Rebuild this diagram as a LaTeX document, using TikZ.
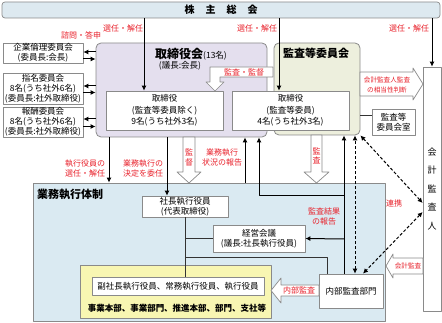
\documentclass[tikz,border=0pt]{standalone}
\usepackage{fontspec}
\setmainfont{Noto Sans CJK JP}
\usetikzlibrary{arrows.meta}
\definecolor{shareblue}{HTML}{DDE9F0}
\definecolor{boardlav}{HTML}{E4DFEE}
\definecolor{acgreen}{HTML}{EDEFDD}
\definecolor{execblue}{HTML}{DAEAF2}
\definecolor{unityellow}{HTML}{F8F6B2}
\definecolor{lblred}{HTML}{E8202A}
\definecolor{edgegray}{HTML}{8A8A8A}
\newcommand{\fbx}{\fontsize{8.5}{10}\selectfont}
\newcommand{\fdir}{\fontsize{8.5}{11.5}\selectfont}
\newcommand{\flbl}{\fontsize{8}{10}\selectfont}
\newcommand{\ftiny}{\fontsize{6.6}{9.5}\selectfont}

\begin{document}
\begin{tikzpicture}[x=1pt,y=-1pt,line join=round,
  box/.style={draw=edgegray,fill=white,align=center,inner sep=0pt,font=\fbx,line width=0.7pt},
  panel/.style={draw=edgegray,line width=0.8pt,rounded corners=5pt,inner sep=0pt},
  lbl/.style={text=lblred,align=center,inner sep=0pt,font=\flbl},
  arr/.style={line width=1pt,-{Latex[length=5pt,width=5pt]}},
  darr/.style={line width=1pt,dash pattern=on 3pt off 2pt,{Latex[length=5pt,width=5pt]}-{Latex[length=5pt,width=5pt]}},
  barrow/.style={draw=edgegray,fill=white,line width=0.7pt},
  tie/.style={line width=0.8pt,black!80}]
\useasboundingbox (0,0) rectangle (442,323);
% ---- shareholders' meeting ----
\node[draw=edgegray,fill=shareblue,rounded corners=3pt,minimum width=438,minimum height=16,
  inner sep=0pt,line width=0.7pt,font=\fontsize{10}{10}\selectfont\bfseries] (agm) at (221,10)
  {株\hspace{11pt}主\hspace{11pt}総\hspace{11pt}会};
% ---- board and audit committee ----
\node[panel,fill=boardlav,minimum width=171,minimum height=94] (board) at (181.5,90) {};
\node[panel,fill=acgreen,minimum width=86,minimum height=92] (acom) at (317,89) {};
\node[inner sep=0pt] (boardtitle) at (191,54)
  {{\fontsize{12}{12}\selectfont\bfseries 取締役会}{\fbx(13名)}};
\node[inner sep=0pt,font=\fbx] (boardchair) at (180,66) {(議長:会長)};
\node[inner sep=0pt,font=\fontsize{11}{11}\selectfont\bfseries] (acomtitle) at (316,53) {監査等委員会};
\node[box,minimum width=117,minimum height=39,font=\fdir] (dirs) at (164.5,110.5)
  {取締役\\(監査等委員除く)\\9名(うち社外3名)};
\node[box,minimum width=117,minimum height=39,font=\fdir] (acdirs) at (290.5,110.5)
  {取締役\\(監査等委員)\\4名(うち社外3名)};
% bent block arrow: audit committee -> directors
\draw[barrow] (273,67) -- (210,67) -- (210,82) -- (206,82) -- (215,91) -- (224,82)
  -- (220,82) -- (220,77) -- (273,77) -- cycle;
\node[lbl] (lblsupv) at (244,72) {監査・監督};
% ---- advisory committees ----
\node[box,minimum width=80,minimum height=20] (ethics) at (43,53) {企業倫理委員会\\(委員長:会長)};
\node[box,minimum width=80,minimum height=31] (nomin) at (43,88.5)
  {指名委員会\\8名(うち社外6名)\\(委員長:社外取締役)};
\node[box,minimum width=80,minimum height=30] (remun) at (43,122)
  {報酬委員会\\8名(うち社外6名)\\(委員長:社外取締役)};
\foreach \c/\ya/\yb in {ethics/52/59,nomin/86/92.5,remun/119/126.5}{
  \draw[arr] (board.west |- 0,\ya) -- (\c.east |- 0,\ya);
  \draw[arr] (\c.east |- 0,\yb) -- (board.west |- 0,\yb);
}
\node[lbl] (lbladv) at (81,35) {諮問・答申};
% ---- accounting auditor ----
\node[box,minimum width=18,minimum height=244,font=\fontsize{9}{18.5}\selectfont] (auditor) at (432,189)
  {会\\計\\監\\査\\人};
\node[box,minimum width=43,minimum height=26] (acroom) at (393.5,122) {監査等\\委員会室};
\draw[tie] (acom.east |- 0,115) -- (acroom.west |- 0,115);
\draw[barrow] (360,72) -- (413,72) -- (413,68) -- (423,84) -- (413,100) -- (413,96) -- (360,96) -- cycle;
\node[lbl,font=\ftiny] (lbljudge) at (387,85) {会計監査人監査\\の相当性判断};
% ---- election arrows ----
\draw[arr] (agm.south -| 144,0) -- (dirs.north -| 144,0);
\draw[arr] (agm.south -| 279,0) -- (acdirs.north -| 279,0);
\draw[arr] (agm.south -| auditor.north) -- (auditor.north);
\node[lbl] (lblsel1) at (123,28) {選任・解任};
\node[lbl] (lblsel2) at (257,28) {選任・解任};
\node[lbl] (lblsel3) at (409,28) {選任・解任};
% ---- execution structure ----
\node[draw=edgegray,fill=execblue,minimum width=352,minimum height=138,line width=0.8pt] (exec) at (209,252) {};
\node[anchor=west,inner sep=0pt,font=\fontsize{11}{11}\selectfont\bfseries] (exectitle) at (37,194) {業務執行体制};
\node[box,minimum width=86,minimum height=21] (pres) at (185,206.5) {社長執行役員\\(代表取締役)};
\node[box,minimum width=92,minimum height=27] (kaigi) at (259,238.5) {経営会議\\(議長:社長執行役員)};
\node[draw=edgegray,fill=unityellow,minimum width=191,minimum height=53,line width=0.8pt] (units) at (175.5,291.5) {};
\node[box,minimum width=172,minimum height=18] (officers) at (178,286) {副社長執行役員、常務執行役員、執行役員};
\node[inner sep=0pt,font=\fbx\bfseries] (unitlist) at (177,308) {事業本部、事業部門、推進本部、部門、支社等};
\node[box,minimum width=64,minimum height=34] (intaudit) at (351,291) {内部監査部門};
\draw[tie] (pres.south) -- (officers.north -| pres.south);
\draw[tie] (pres.south |- kaigi.west) -- (kaigi.west);
\draw[tie] (pres.south |- 0,257) -- (327,257) -- (intaudit.north -| 327,0);
% ---- board -> execution ----
\draw[arr] (board.south -| 109,0) -- (exec.north -| 109,0);
\draw[arr] (board.south -| 167,0) -- (pres.north -| 167,0);
\draw[barrow] (183,137) -- (183,172) -- (177,172) -- (189,183) -- (201,172) -- (195,172) -- (195,137) -- cycle;
\draw[arr] (exec.north -| 245,0) -- (board.south -| 245,0);
\node[lbl] (lblelect) at (85,168) {執行役員の\\選任・解任};
\node[lbl] (lbldeleg) at (143,168) {業務執行の\\決定を委任};
\node[lbl,font=\fontsize{8}{9.5}\selectfont] (lblsup) at (189,157.5) {監\\督};
\node[lbl] (lblstat) at (222,157) {業務執行\\状況の報告};
% ---- audit committee <-> execution ----
\draw[barrow] (311,135) -- (311,172) -- (304,172) -- (316.5,183) -- (329,172) -- (322,172) -- (322,135) -- cycle;
\node[lbl,font=\fontsize{8}{9}\selectfont] (lblaud) at (316.5,156) {監\\査};
\draw[arr] (intaudit.north -| 344,0) -- (acom.south -| 344,0);
\draw[arr] (344,196) -- (259,196) -- (board.south -| 259,0);
\draw[arr] (344,239) -- (kaigi.east);
\draw[darr] (intaudit.north -| 355,0) -- (acom.south -| 355,0);
\node[lbl] (lblresult) at (324,216) {監査結果\\の報告};
% ---- cooperation with auditor ----
\draw[darr] (acom.south east) -- (auditor.west |- 0,203);
\draw[darr] (auditor.west |- 0,212) -- (intaudit.north -| 363,0);
\node[lbl] (lblcoop) at (394,203) {連携};
\draw[barrow] (423,258) -- (393,258) -- (393,254) -- (386,266) -- (393,278) -- (393,274) -- (423,274) -- cycle;
\node[lbl,font=\ftiny] (lblacc) at (408,266) {会計監査};
\draw[barrow] (319,285) -- (281,285) -- (281,278) -- (271,290.5) -- (281,303) -- (281,296) -- (319,296) -- cycle;
\node[lbl] (lblint) at (299,290.5) {内部監査};
\end{tikzpicture}
\end{document}
